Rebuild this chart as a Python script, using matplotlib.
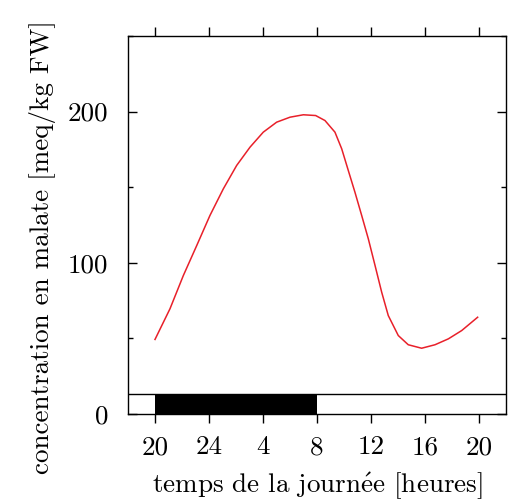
import matplotlib
matplotlib.use('Agg')
import matplotlib.pyplot as plt
from matplotlib.ticker import MultipleLocator

# heures depuis 20h, concentration en malate [meq/kg FW]
hours = [0.0, 1.11, 2.1, 3.09, 4.07, 5.06, 6.05, 7.04, 8.02, 9.01, 10.0, 10.99, 11.9,
         12.59, 13.33, 13.83, 14.32, 14.81, 15.31, 15.8, 16.3, 16.79, 17.28, 18.02,
         18.76, 19.75, 20.74, 21.73, 22.72, 23.9]
malate = [49.3, 69.6, 91.6, 111.4, 131.3, 148.9, 164.4, 176.5, 186.4, 193, 196.3, 197.9, 197.4,
          194.1, 186.4, 175.4, 161, 146.7, 131.3, 115.9, 98.2, 80.6, 65.1, 51.9,
          45.8, 43.5, 45.8, 49.7, 55.2, 64]
xticks = [0, 4, 8, 12, 16, 20, 24]
xticklabels = ['20', '24', '4', '8', '12', '16', '20']
yticks = [0, 100, 200]
night = (0, 12)       # periode obscure
night_height = 13

plt.rcParams['font.family'] = ['cmr10', 'DejaVu Serif']
plt.rcParams['mathtext.fontset'] = 'cm'
plt.rcParams['font.size'] = 19.5

fig = plt.figure(figsize=(5.08, 5.04), dpi=100)
ax = fig.add_axes([128/508, 1-414/504, 378/508, 378/504])
ax.plot(hours, malate, color='#e8202a', lw=1.1)
ax.fill_between(night, 0, night_height, color='black', lw=0)
ax.axhline(night_height, color='black', lw=1.0)
ax.set_xlim(-2, 26); ax.set_ylim(0, 250)
ax.set_xticks(xticks); ax.set_xticklabels(xticklabels)
ax.set_yticks(yticks); ax.yaxis.set_minor_locator(MultipleLocator(50))
ax.tick_params(axis='x', direction='out', top=True, length=6.5, width=1.0, pad=9)
ax.tick_params(axis='y', which='major', direction='in', right=True, length=6.5, width=1.0, pad=14)
ax.tick_params(axis='y', which='minor', direction='in', right=True, length=3.5, width=1.0)
for s in ax.spines.values(): s.set_linewidth(1.0)
ax.set_xlabel('temps de la journ$\\mathrm{\\acute{e}}$e [heures]', labelpad=8)
ax.set_ylabel('concentration en malate [meq/kg FW]')
ax.yaxis.set_label_coords(-0.19, 0.442)
fig.savefig('out.png', dpi=100)
